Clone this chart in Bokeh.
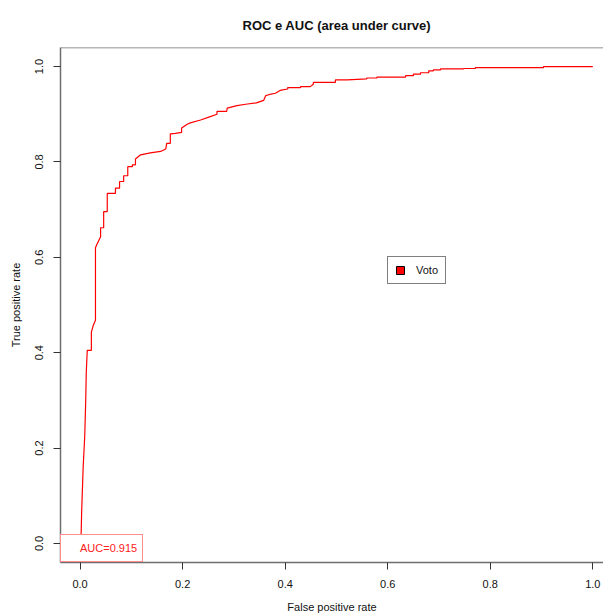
from bokeh.plotting import figure
from bokeh.models import (Range1d, FixedTicker, Span, Legend, LegendItem,
                          ColumnDataSource)
from bokeh.embed import file_html
from bokeh.resources import INLINE

# ---- data ----
fpr = [0.000, 0.002, 0.003, 0.006, 0.009, 0.011, 0.012, 0.014, 0.022, 0.022,
       0.026, 0.030, 0.030, 0.034, 0.036, 0.040, 0.040, 0.046, 0.046, 0.053,
       0.053, 0.069, 0.069, 0.077, 0.077, 0.085, 0.085, 0.093, 0.093, 0.102,
       0.102, 0.108, 0.108, 0.118, 0.137, 0.157, 0.167, 0.169, 0.176, 0.176,
       0.186, 0.198, 0.198, 0.209, 0.215, 0.235, 0.251, 0.267, 0.267, 0.286,
       0.287, 0.306, 0.323, 0.344, 0.358, 0.362, 0.368, 0.381, 0.390, 0.405,
       0.405, 0.430, 0.430, 0.449, 0.455, 0.455, 0.498, 0.498, 0.521, 0.559,
       0.559, 0.579, 0.579, 0.635, 0.635, 0.650, 0.650, 0.664, 0.664, 0.680,
       0.680, 0.689, 0.689, 0.703, 0.703, 0.748, 0.748, 0.771, 0.771, 0.904,
       0.904, 1.000]
tpr = [0.000, 0.017, 0.064, 0.160, 0.223, 0.300, 0.357, 0.405, 0.405, 0.443,
       0.458, 0.468, 0.620, 0.630, 0.634, 0.643, 0.662, 0.662, 0.696, 0.696,
       0.734, 0.734, 0.745, 0.745, 0.759, 0.759, 0.771, 0.771, 0.790, 0.790,
       0.794, 0.794, 0.806, 0.815, 0.819, 0.822, 0.827, 0.839, 0.839, 0.859,
       0.860, 0.862, 0.871, 0.879, 0.882, 0.888, 0.894, 0.900, 0.906, 0.906,
       0.913, 0.918, 0.921, 0.924, 0.929, 0.939, 0.941, 0.944, 0.950, 0.953,
       0.956, 0.956, 0.958, 0.958, 0.963, 0.967, 0.967, 0.972, 0.972, 0.974,
       0.976, 0.976, 0.978, 0.978, 0.981, 0.981, 0.984, 0.984, 0.987, 0.987,
       0.991, 0.991, 0.993, 0.993, 0.995, 0.995, 0.996, 0.996, 0.998, 0.998,
       1.000, 1.000]
tick_values = [0.0, 0.2, 0.4, 0.6, 0.8, 1.0]
tick_labels = ["0.0", "0.2", "0.4", "0.6", "0.8", "1.0"]
series_name = "Voto"
auc_label = "AUC=0.915"
title_text = "ROC e AUC (area under curve)"
x_title = "False positive rate"
y_title = "True positive rate"

FONT = "Liberation Sans"
BOX = "#6e6e6e"

p = figure(width=603, height=615,
           x_range=Range1d(-0.0382, 1.0209), y_range=Range1d(-0.04, 1.04),
           output_backend="svg", toolbar_location=None,
           min_border_left=60, min_border_right=0,
           min_border_top=47, min_border_bottom=53)
p.xgrid.visible = False
p.ygrid.visible = False
p.outline_line_color = None
p.background_fill_color = "white"
p.border_fill_color = "white"

p.title.text = title_text
p.title.align = "left"
p.title.offset = 182
p.title.standoff = 30
p.title.text_font = FONT
p.title.text_font_size = "13px"
p.title.text_font_style = "bold"
p.title.text_color = "#111111"

labels_map = {v: s for v, s in zip(tick_values, tick_labels)}
for ax in (p.xaxis[0], p.yaxis[0]):
    ax.ticker = FixedTicker(ticks=tick_values)
    ax.major_label_overrides = labels_map
    ax.major_tick_out = 7
    ax.major_tick_in = 0
    ax.minor_tick_out = 0
    ax.minor_tick_in = 0
    ax.axis_line_color = BOX
    ax.axis_line_width = 1.5
    ax.major_tick_line_color = "#333333"
    ax.major_tick_line_width = 1
    ax.major_label_text_font = FONT
    ax.major_label_text_font_size = "11px"
    ax.major_label_text_color = "#111111"
    ax.axis_label_text_font = FONT
    ax.axis_label_text_font_size = "11px"
    ax.axis_label_text_font_style = "normal"
    ax.axis_label_text_color = "#111111"

p.xaxis[0].axis_label = x_title
p.xaxis[0].major_label_standoff = 10
p.xaxis[0].axis_label_standoff = 10
p.yaxis[0].axis_label = y_title
p.yaxis[0].major_label_orientation = "vertical"
p.yaxis[0].major_label_standoff = 10
p.yaxis[0].axis_label_standoff = 11

# top border of the box
p.add_layout(Span(location=1.04, dimension="width", line_color=BOX, line_width=1.5))

# ROC curve
p.line(fpr, tpr, line_color="#ff0000", line_width=1.2)

# legend key for "Voto": a zero-size quad at the curve's first point (draws nothing itself)
key_src = ColumnDataSource(dict(l=[fpr[0]], r=[fpr[0]], b=[tpr[0]], t=[tpr[0]]))
key_r = p.quad(left="l", right="r", bottom="b", top="t", source=key_src,
               fill_color="#ff0000", line_color="black", line_width=1)
leg = Legend(items=[LegendItem(label=series_name, renderers=[key_r])],
             location=(327, 278), padding=7, glyph_width=10, glyph_height=10,
             label_height=10, label_standoff=11, margin=0,
             border_line_color="black", border_line_width=1,
             background_fill_color="white", background_fill_alpha=1,
             label_text_font=FONT, label_text_font_size="11px",
             label_text_color="#111111")
p.add_layout(leg, "center")

# AUC box
dummy_ln = p.line(x=[], y=[], line_alpha=0)
leg2 = Legend(items=[LegendItem(label=auc_label, renderers=[dummy_ln])],
              location=(0, 0), padding=5, glyph_width=10, glyph_height=16,
              label_height=16, label_standoff=4, margin=0,
              border_line_color="#ff2020", border_line_width=1.2,
              background_fill_color="white", background_fill_alpha=1,
              label_text_font=FONT, label_text_font_size="11px",
              label_text_color="#ff2020")
p.add_layout(leg2, "center")

open("out.html", "w").write(file_html(p, INLINE))
